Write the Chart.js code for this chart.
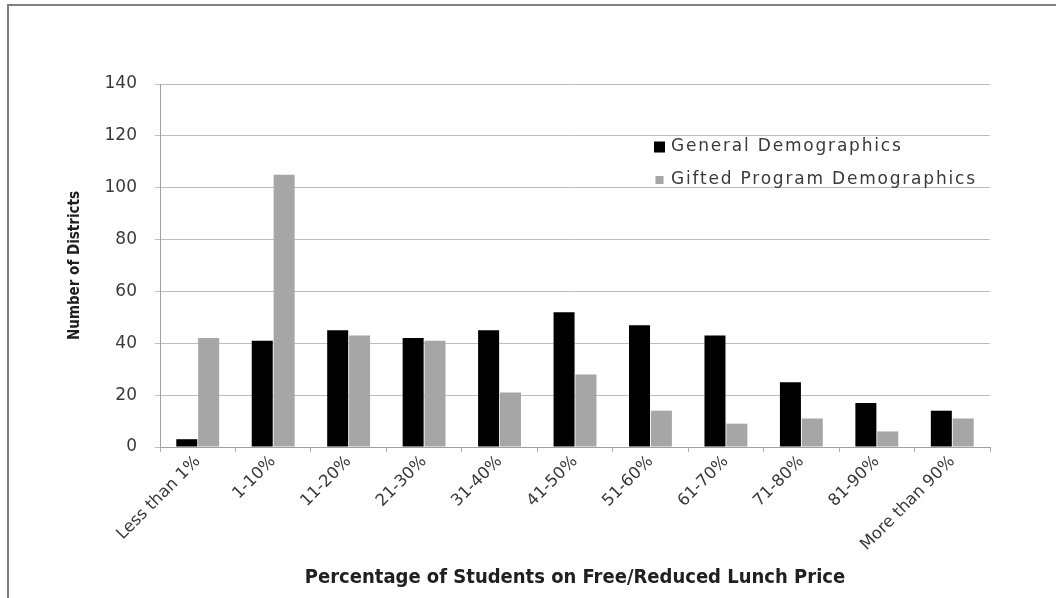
<!DOCTYPE html>
<html>
<head>
<meta charset="utf-8">
<script src="https://cdn.jsdelivr.net/npm/chart.js@4"></script>
<style>
  html, body { margin: 0; padding: 0; background: #fff; }
  #wrap { position: relative; width: 1056px; height: 598px; }
  #frame { position: absolute; left: 7px; top: 4px; right: 0; bottom: 0;
           border-top: 2px solid #808080; border-left: 2px solid #808080; }
  canvas { position: absolute; left: 0; top: 0; }
</style>
</head>
<body>
<div id="wrap">
  <div id="frame"></div>
  <canvas id="bars" width="1056" height="598"></canvas>
</div>
<script>
// categories along the x axis
var categories = ['Less than 1%', '1-10%', '11-20%', '21-30%', '31-40%', '41-50%',
                  '51-60%', '61-70%', '71-80%', '81-90%', 'More than 90%'];
// number of districts
var generalDemo = [3, 41, 45, 42, 45, 52, 47, 43, 25, 17, 14];
var giftedDemo  = [42, 105, 43, 41, 21, 28, 14, 9, 11, 6, 11];
var yTicks = [0, 20, 40, 60, 80, 100, 120, 140];

var narrowFont = "'DejaVu Sans Condensed', 'Liberation Sans Narrow', 'DejaVu Sans', sans-serif";
var wideFont = "'DejaVu Sans', sans-serif";

// legend drawn inside the plot, upper right
var innerLegend = {
    id: 'innerLegend',
    afterDraw: function(chart) {
        var c = chart.ctx;
        var area = chart.chartArea;
        var x = area.left + 494;
        var y = area.top + 63;
        c.save();
        c.font = '17px ' + wideFont;
        c.letterSpacing = '1.8px';
        c.textBaseline = 'middle';
        chart.data.datasets.forEach(function(ds, i) {
            var yy = y + i * 33;
            var s = i === 0 ? 11 : 8;
            c.fillStyle = ds.backgroundColor;
            c.fillRect(x + (11 - s) / 2, yy - s / 2, s, s);
            c.fillStyle = '#3a3a3a';
            c.fillText(ds.label, x + 17, yy);
        });
        c.restore();
    }
};

var ctx = document.getElementById('bars').getContext('2d');
var myChart = new Chart(ctx, {
    type: 'bar',
    data: {
        labels: categories,
        datasets: [{
            label: 'General Demographics',
            data: generalDemo,
            backgroundColor: '#000000',
            borderWidth: 0,
            categoryPercentage: 0.58,
            barPercentage: 0.96
        }, {
            label: 'Gifted Program Demographics',
            data: giftedDemo,
            backgroundColor: '#a6a6a6',
            borderWidth: 0,
            categoryPercentage: 0.58,
            barPercentage: 0.96
        }]
    },
    options: {
        responsive: false,
        animation: false,
        layout: { padding: { left: 62, right: 66, top: 84, bottom: 8 } },
        plugins: {
            legend: { display: false },
            tooltip: { enabled: false }
        },
        scales: {
            x: {
                grid: { drawOnChartArea: false, drawTicks: true, tickLength: 5, color: '#b0b0b0' },
                border: { color: '#a0a0a0' },
                ticks: {
                    color: '#3a3a3a',
                    font: { family: wideFont, size: 16.5 },
                    maxRotation: 45, minRotation: 45, padding: 0
                },
                title: {
                    display: true,
                    text: 'Percentage of Students on Free/Reduced Lunch Price',
                    color: '#202020',
                    font: { family: narrowFont, size: 20, weight: 'bold' },
                    padding: { top: 4, bottom: 0 }
                },
                afterFit: function(scale) { scale.height = 143; }
            },
            y: {
                min: 0,
                max: 140,
                afterBuildTicks: function(scale) {
                    scale.ticks = yTicks.map(function(v) { return { value: v }; });
                },
                grid: { color: '#bdbdbd', tickLength: 5 },
                border: { color: '#a0a0a0' },
                ticks: {
                    color: '#3a3a3a',
                    font: { family: wideFont, size: 17 },
                    padding: 18
                },
                title: {
                    display: true,
                    text: 'Number of Districts',
                    color: '#202020',
                    font: { family: narrowFont, size: 15, weight: 'bold' },
                    padding: 4
                },
                afterFit: function(scale) { scale.width = 98; }
            }
        }
    },
    plugins: [innerLegend]
});
</script>
</body>
</html>
